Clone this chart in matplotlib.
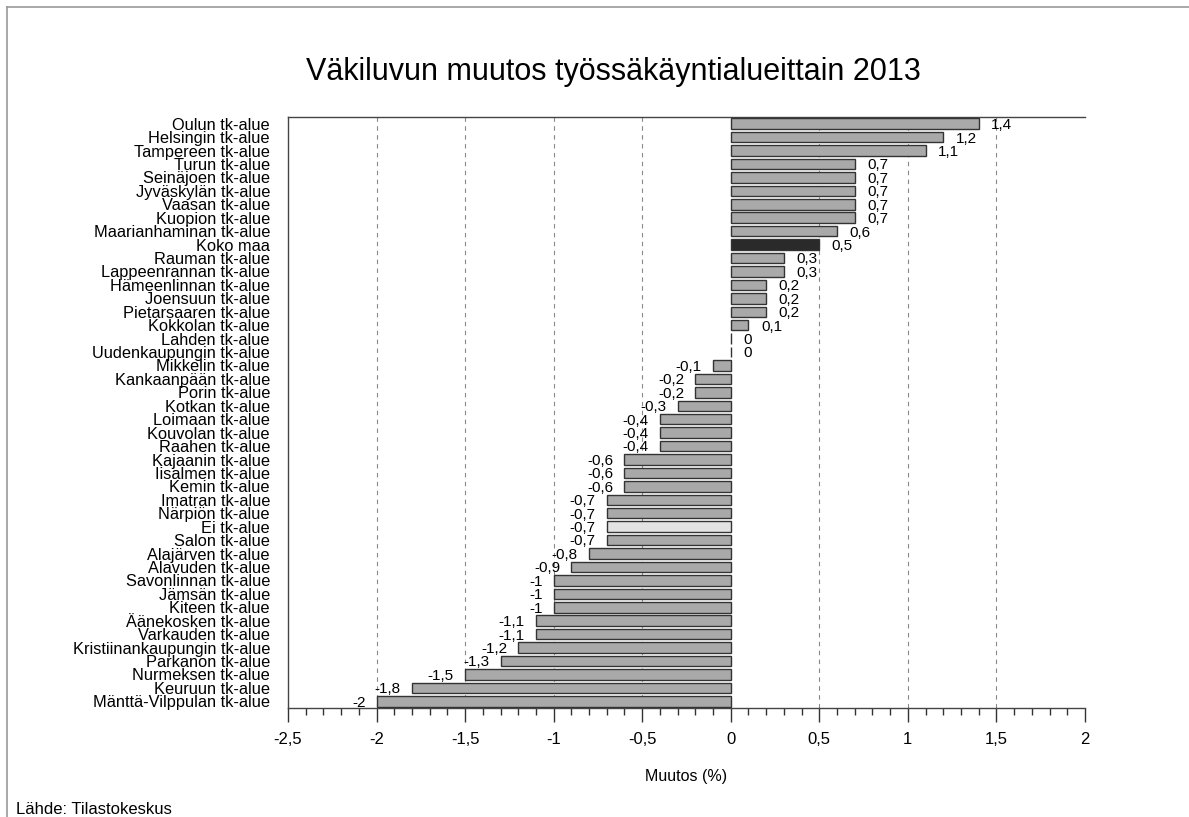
import matplotlib
matplotlib.use("Agg")
import matplotlib.pyplot as plt
from matplotlib.ticker import MultipleLocator, FuncFormatter
from matplotlib.lines import Line2D

plt.rcParams['font.family'] = ['Liberation Sans', 'DejaVu Sans']

categories = [
    "Oulun tk-alue", "Helsingin tk-alue", "Tampereen tk-alue", "Turun tk-alue",
    "Seinäjoen tk-alue", "Jyväskylän tk-alue", "Vaasan tk-alue", "Kuopion tk-alue",
    "Maarianhaminan tk-alue", "Koko maa", "Rauman tk-alue", "Lappeenrannan tk-alue",
    "Hämeenlinnan tk-alue", "Joensuun tk-alue", "Pietarsaaren tk-alue", "Kokkolan tk-alue",
    "Lahden tk-alue", "Uudenkaupungin tk-alue", "Mikkelin tk-alue", "Kankaanpään tk-alue",
    "Porin tk-alue", "Kotkan tk-alue", "Loimaan tk-alue", "Kouvolan tk-alue",
    "Raahen tk-alue", "Kajaanin tk-alue", "Iisalmen tk-alue", "Kemin tk-alue",
    "Imatran tk-alue", "Närpiön tk-alue", "Ei tk-alue", "Salon tk-alue",
    "Alajärven tk-alue", "Alavuden tk-alue", "Savonlinnan tk-alue", "Jämsän tk-alue",
    "Kiteen tk-alue", "Äänekosken tk-alue", "Varkauden tk-alue", "Kristiinankaupungin tk-alue",
    "Parkanon tk-alue", "Nurmeksen tk-alue", "Keuruun tk-alue", "Mänttä-Vilppulan tk-alue",
]
values = [
    1.4, 1.2, 1.1, 0.7, 0.7, 0.7, 0.7, 0.7, 0.6, 0.5, 0.3, 0.3, 0.2, 0.2, 0.2, 0.1,
    0, 0, -0.1, -0.2, -0.2, -0.3, -0.4, -0.4, -0.4, -0.6, -0.6, -0.6, -0.7, -0.7,
    -0.7, -0.7, -0.8, -0.9, -1, -1, -1, -1.1, -1.1, -1.2, -1.3, -1.5, -1.8, -2,
]

title = "Väkiluvun muutos työssäkäyntialueittain 2013"
xlabel = "Muutos (%)"
source = "Lähde: Tilastokeskus"

def fmt(v):
    return ("%g" % v).replace(".", ",")

colors = []
for c in categories:
    if c == "Koko maa":
        colors.append("#2a2a2a")
    elif c == "Ei tk-alue":
        colors.append("#e2e2e2")
    else:
        colors.append("#a9a9a9")

fig = plt.figure(figsize=(11.89, 8.17), dpi=100)
ax = fig.add_axes([0.2422, 0.1334, 0.6703, 0.7234])

ypos = list(range(len(categories)))
ax.barh(ypos, values, height=0.78, color=colors, edgecolor="#333333", linewidth=1.0, zorder=3)

ax.set_xlim(-2.5, 2)
ax.set_ylim(len(categories) - 0.5, -0.5)

for y, v in zip(ypos, values):
    if v >= 0:
        ax.annotate(fmt(v), (v, y), xytext=(9, -1), textcoords="offset points",
                    ha="left", va="center", fontsize=11, zorder=4)
    else:
        ax.annotate(fmt(v), (v, y), xytext=(-8, -1), textcoords="offset points",
                    ha="right", va="center", fontsize=11, zorder=4)

ax.set_yticks(ypos)
ax.set_yticklabels(categories, fontsize=11.8)
ax.tick_params(axis="y", length=0, pad=13)

ax.xaxis.set_major_locator(MultipleLocator(0.5))
ax.xaxis.set_minor_locator(MultipleLocator(0.1))
ax.xaxis.set_major_formatter(FuncFormatter(lambda v, p: fmt(round(v, 2))))
ax.tick_params(axis="x", which="major", length=10, width=1, labelsize=12, pad=7, color="#333333")
ax.tick_params(axis="x", which="minor", length=5, width=1, color="#333333")

for gx in [-2, -1.5, -1, -0.5, 0.5, 1, 1.5]:
    ax.axvline(gx, color="#888888", linestyle=(0, (4, 4)), linewidth=0.8, zorder=1)

ax.spines["right"].set_visible(False)
for s in ["top", "left", "bottom"]:
    ax.spines[s].set_color("#444444")
    ax.spines[s].set_linewidth(1.0)

ax.set_xlabel(xlabel, fontsize=11.5, labelpad=16)

fig.text(613 / 1189, 1 - 72 / 817, title, ha="center", va="center", fontsize=22)
fig.text(16 / 1189, 1 - 809 / 817, source, ha="left", va="center", fontsize=12)

# frame: left and top edges only visible
fx = 7 / 1189
fy = 1 - 7 / 817
fig.add_artist(Line2D([fx, fx], [0, fy], transform=fig.transFigure, color="#999999", linewidth=1.2))
fig.add_artist(Line2D([fx, 1], [fy, fy], transform=fig.transFigure, color="#999999", linewidth=1.2))

fig.savefig("out.png", dpi=100)
